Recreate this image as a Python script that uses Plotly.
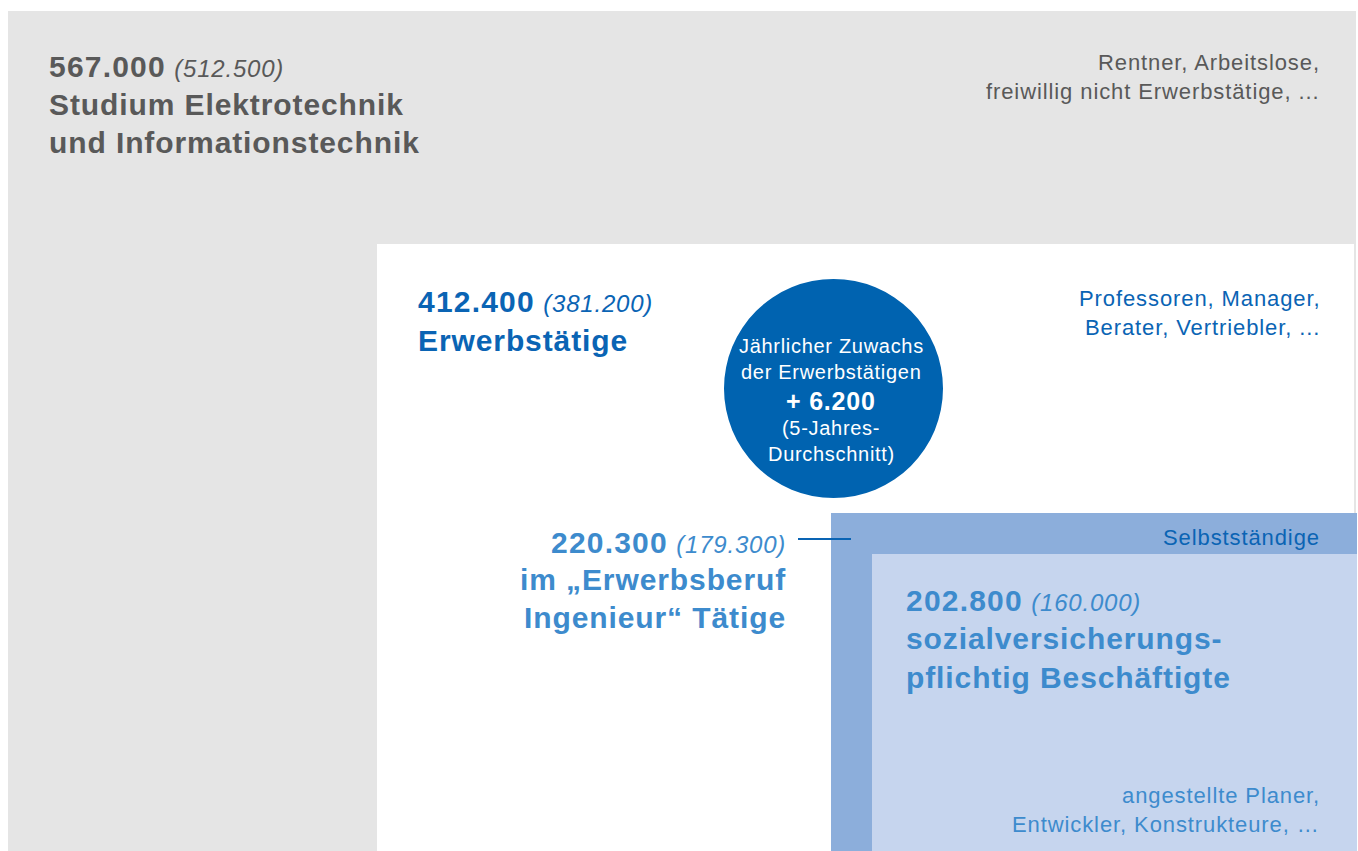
import plotly.graph_objects as go

# Group sizes (current, previous period in parentheses)
groups = ["studium", "erwerb", "ingenieur", "sozial"]
current = [567000, 412400, 220300, 202800]
previous = [512500, 381200, 179300, 160000]
titles = [
    ["Studium Elektrotechnik", "und Informationstechnik"],
    ["Erwerbstätige"],
    ["im „Erwerbsberuf", "Ingenieur“ Tätige"],
    ["sozialversicherungs-", "pflichtig Beschäftigte"],
]
examples = [
    ["Rentner, Arbeitslose,", "freiwillig nicht Erwerbstätige, ..."],
    ["Professoren, Manager,", "Berater, Vertriebler, ..."],
    ["Selbstständige"],
    ["angestellte Planer,", "Entwickler, Konstrukteure, …"],
]
growth_lines = ["Jährlicher Zuwachs", "der Erwerbstätigen"]
growth_value = 6200
growth_note = ["(5-Jahres-", "Durchschnitt)"]

W, H = 1358, 851
FONT = "Liberation Sans, Arial, Helvetica, sans-serif"

GRAY_BG = "#e5e5e5"
MID_BLUE_BG = "#8caedb"
LIGHT_BLUE_BG = "#c6d5ee"
CIRCLE = "#0063b0"
GRAY_TXT = "#595959"
DARK_BLUE_TXT = "#0a64b4"
MID_BLUE_TXT = "#3d8bcd"


def de(n):
    return f"{n:,}".replace(",", ".")


fig = go.Figure()

# nested areas
boxes = [
    (8, 11, 1356, 851, GRAY_BG),
    (377, 244, 1354, 851, "#ffffff"),
    (831, 513, 1357, 851, MID_BLUE_BG),
    (872, 554, 1357, 851, LIGHT_BLUE_BG),
]
for x0, y0, x1, y1, c in boxes:
    fig.add_shape(type="rect", x0=x0, y0=y0, x1=x1, y1=y1,
                  fillcolor=c, line=dict(width=0), layer="below")

# growth circle
fig.add_shape(type="circle", x0=724, y0=279, x1=943, y1=498,
              fillcolor=CIRCLE, line=dict(width=0))

# leader line to the engineer block
fig.add_shape(type="line", x0=798, y0=539, x1=851, y1=539,
              line=dict(color=DARK_BLUE_TXT, width=2))


def spaced(s, ls):
    return f"<span style='letter-spacing:{ls}px'>{s}</span>"


def txt(x, y, s, size, color, anchor="left", shift=0):
    fig.add_annotation(x=x, y=y, text=s, showarrow=False, xanchor=anchor,
                       yanchor="middle", xref="x", yref="y", xshift=shift,
                       font=dict(family=FONT, size=size, color=color))


def headline(i, x, y, color, anchor, step):
    head = (spaced(f"<b>{de(current[i])}</b>", 1.2) + " "
            + f"<i><span style='font-size:24px;letter-spacing:0.8px'>"
              f"({de(previous[i])})</span></i>")
    shift = 1 if anchor == "right" else 0
    txt(x, y, head, 30, color, anchor, shift)
    for k, line in enumerate(titles[i]):
        txt(x, y + step * (k + 1), spaced(f"<b>{line}</b>", 0.9), 30, color,
            anchor, shift)


headline(0, 47, 66, GRAY_TXT, "left", 38)
headline(1, 416, 301, DARK_BLUE_TXT, "left", 39)
headline(2, 787, 542, MID_BLUE_TXT, "right", 37.5)
headline(3, 904, 600, MID_BLUE_TXT, "left", 38.5)

# example notes at the right edge
note_rows = [(62, GRAY_TXT), (298, DARK_BLUE_TXT), (537, DARK_BLUE_TXT), (795, MID_BLUE_TXT)]
for (y, c), lines in zip(note_rows, examples):
    for k, line in enumerate(lines):
        txt(1321, y + 29 * k, spaced(line, 0.9), 22, c, "right", 1)

# circle text
cx = 831
for k, line in enumerate(growth_lines):
    txt(cx, 346 + 26 * k, spaced(line, 0.7), 20, "#ffffff", "center")
txt(cx, 401, spaced(f"<b>+ {de(growth_value)}</b>", 0.8), 25, "#ffffff", "center")
for k, line in enumerate(growth_note):
    txt(cx, 428 + 26 * k, spaced(line, 0.7), 20, "#ffffff", "center")

fig.update_layout(
    width=W, height=H,
    margin=dict(l=0, r=0, t=0, b=0),
    paper_bgcolor="#ffffff", plot_bgcolor="#ffffff",
    xaxis=dict(range=[0, W], visible=False, fixedrange=True),
    yaxis=dict(range=[H, 0], visible=False, fixedrange=True),
    showlegend=False,
)

fig.write_html("out.html", config={"displayModeBar": False})
